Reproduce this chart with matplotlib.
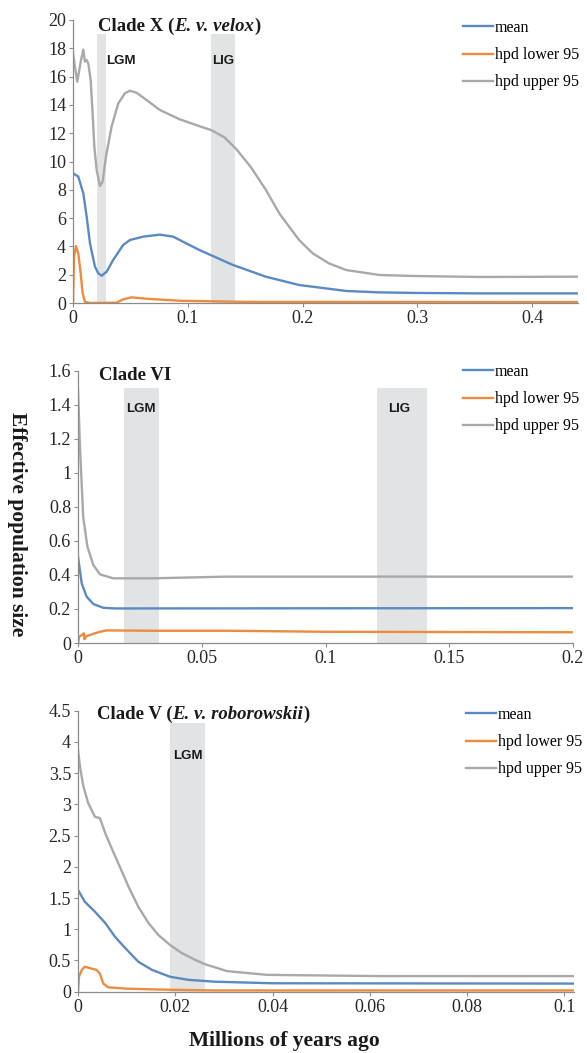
import numpy as np
import matplotlib
matplotlib.use("Agg")
import matplotlib.pyplot as plt
from matplotlib.text import Annotation
from matplotlib.ticker import FuncFormatter, MultipleLocator

plt.rcParams["font.family"] = ["Liberation Serif", "DejaVu Serif"]

# ---------- data ----------
series_labels = ["mean", "hpd lower 95", "hpd upper 95"]

# Clade X (E. v. velox)
x1_mean = [0, 0.0046, 0.009, 0.0119, 0.0148, 0.0191, 0.022, 0.025, 0.0293, 0.035, 0.0437,
           0.0496, 0.0611, 0.0757, 0.0872, 0.093, 0.110, 0.139, 0.168, 0.197, 0.209, 0.238,
           0.267, 0.30, 0.354, 0.44]
y1_mean = [9.17, 8.93, 7.75, 6.1, 4.22, 2.57, 2.1, 1.93, 2.21, 3.04, 4.1,
           4.45, 4.69, 4.83, 4.69, 4.45, 3.75, 2.7, 1.86, 1.27, 1.15, 0.85,
           0.75, 0.71, 0.68, 0.68]
x1_lower = [0, 0.0009, 0.0026, 0.0046, 0.0067, 0.0084, 0.0104, 0.0148, 0.038, 0.0437,
            0.051, 0.064, 0.093, 0.15, 0.44]
y1_lower = [0.0, 3.27, 4.03, 3.51, 2.1, 0.69, 0.09, 0.0, 0.02, 0.26,
            0.4, 0.3, 0.16, 0.08, 0.07]
x1_upper = [0, 0.0017, 0.0037, 0.0055, 0.007, 0.009, 0.0104, 0.0119, 0.0133, 0.0154,
            0.0171, 0.0186, 0.0206, 0.0235, 0.0258, 0.0287, 0.0336, 0.0394, 0.0452,
            0.0496, 0.0554, 0.064, 0.0757, 0.093, 0.110, 0.121, 0.132, 0.142, 0.155,
            0.168, 0.18, 0.197, 0.209, 0.223, 0.238, 0.267, 0.296, 0.354, 0.40, 0.44]
y1_upper = [17.65, 16.7, 15.64, 16.47, 17.17, 17.9, 17.05, 17.17, 16.94, 15.76,
            13.4, 11.05, 9.4, 8.27, 8.57, 10.34, 12.46, 14.1, 14.82,
            15.0, 14.86, 14.35, 13.64, 12.98, 12.5, 12.2, 11.7, 10.9, 9.6,
            8.0, 6.3, 4.45, 3.5, 2.8, 2.33, 1.98, 1.91, 1.84, 1.85, 1.86]

# Clade VI
x2_mean = [0, 0.0015, 0.0035, 0.0062, 0.0102, 0.015, 0.2]
y2_mean = [0.507, 0.35, 0.272, 0.229, 0.207, 0.203, 0.205]
x2_lower = [0, 0.0005, 0.0021, 0.0024, 0.0026, 0.0034, 0.0062, 0.0089, 0.0116, 0.03,
            0.06, 0.1, 0.2]
y2_lower = [0.0, 0.037, 0.053, 0.057, 0.022, 0.04, 0.054, 0.066, 0.074, 0.072,
            0.072, 0.066, 0.063]
x2_upper = [0, 0.0008, 0.0021, 0.0038, 0.0062, 0.0089, 0.0143, 0.03, 0.06, 0.1, 0.15, 0.2]
y2_upper = [1.49, 1.15, 0.74, 0.566, 0.458, 0.403, 0.38, 0.38, 0.39, 0.39, 0.39, 0.39]

# Clade V (E. v. roborowskii)
x3_mean = [0, 0.0014, 0.0035, 0.0056, 0.0076, 0.0097, 0.0124, 0.0152, 0.0189, 0.0227,
           0.0282, 0.04, 0.102]
y3_mean = [1.63, 1.44, 1.28, 1.1, 0.88, 0.7, 0.48, 0.35, 0.24, 0.19,
           0.16, 0.135, 0.13]
x3_lower = [0, 0.0002, 0.0008, 0.0014, 0.0028, 0.0038, 0.0045, 0.0052, 0.0062, 0.0097,
            0.0165, 0.028, 0.102]
y3_lower = [0.0, 0.24, 0.35, 0.4, 0.37, 0.35, 0.29, 0.13, 0.07, 0.05,
            0.035, 0.02, 0.02]
x3_upper = [0, 0.0004, 0.0011, 0.0021, 0.0035, 0.0045, 0.0056, 0.0069, 0.0086, 0.0104,
            0.0124, 0.0145, 0.0165, 0.0189, 0.0213, 0.0241, 0.0261, 0.0282, 0.0306,
            0.0388, 0.05, 0.062, 0.102]
y3_upper = [3.87, 3.61, 3.29, 3.02, 2.8, 2.78, 2.54, 2.3, 2.0, 1.68,
            1.36, 1.1, 0.91, 0.75, 0.62, 0.51, 0.44, 0.39, 0.33,
            0.27, 0.26, 0.25, 0.25]

# climate periods (start, end, label)
bands1 = [(0.0205, 0.0285, "LGM"), (0.12, 0.141, "LIG")]
bands2 = [(0.0187, 0.0327, "LGM"), (0.1208, 0.1412, "LIG")]
bands3 = [(0.0189, 0.0261, "LGM")]

colors = ["#5B8AC3", "#ED8B3F", "#A9A9AB"]
band_color = "#E2E3E5"
axis_color = "#8C8C8C"
text_color = "#1a1a1a"


def style_axis(ax, xmax, xstep, ymax, ystep):
    for s in ["top", "right"]:
        ax.spines[s].set_visible(False)
    for s in ["left", "bottom"]:
        ax.spines[s].set_color(axis_color)
        ax.spines[s].set_linewidth(0.9)
    ax.set_xlim(0, xmax)
    ax.set_ylim(0, ymax)
    ax.xaxis.set_major_locator(MultipleLocator(xstep))
    ax.yaxis.set_major_locator(MultipleLocator(ystep))
    fmt = FuncFormatter(lambda v, p: f"{round(v, 6):g}")
    ax.xaxis.set_major_formatter(fmt)
    ax.yaxis.set_major_formatter(fmt)
    ax.tick_params(axis="both", direction="out", length=3, width=0.8,
                   color=axis_color, labelsize=13, labelcolor="#262626", pad=2)


def draw_title(x, y, parts):
    # parts: list of (text, style); each piece starts where the previous one ends
    last = None
    for s, style in parts:
        kw = dict(fontsize=13.5, fontweight="bold", fontstyle=style, color=text_color,
                  ha="left", va="bottom")
        if last is None:
            last = fig.text(x, y, s, **kw)
        else:
            last = fig.add_artist(Annotation(s, xy=(1, 0), xycoords=last, **kw))


def draw_panel(ax, xs, ys, bands, band_top, label_pos, title_parts, title_xy, leg_anchor):
    for x0, x1, lab in bands:
        ax.axvspan(x0, x1, ymin=0, ymax=band_top / ax.get_ylim()[1],
                   color=band_color, lw=0, zorder=0)
    lines = []
    for x, y, c in zip(xs, ys, colors):
        (ln,) = ax.plot(x, y, color=c, lw=1.7, zorder=2)
        lines.append(ln)
    for (x0, x1, lab), lp in zip(bands, label_pos):
        ax.text(lp[0], lp[1], lab, family=["Liberation Sans", "DejaVu Sans"],
                fontweight="bold", fontsize=9.5, color=text_color,
                ha="center", va="center", zorder=3)
    draw_title(title_xy[0], title_xy[1], title_parts)
    fig.legend(lines, series_labels, loc="upper left", bbox_to_anchor=leg_anchor,
               bbox_transform=fig.transFigure, frameon=False, fontsize=11.5,
               handlelength=1.85, handletextpad=0.15, labelspacing=0.7,
               borderpad=0, borderaxespad=0)


W, H = 587, 1053
fig = plt.figure(figsize=(W / 100, H / 100), dpi=100)


def axes_px(left, right, top, bottom):
    return fig.add_axes([left / W, 1 - bottom / H, (right - left) / W, (bottom - top) / H])


ax1 = axes_px(73, 578, 20, 303)
style_axis(ax1, 0.44, 0.1, 20, 2)
draw_panel(ax1, [x1_mean, x1_lower, x1_upper], [y1_mean, y1_lower, y1_upper],
           bands1, 19.0, [(0.042, 17.1), (0.1305, 17.1)],
           [("Clade X (", "normal"), ("E. v. velox", "italic"), (")", "normal")],
           (98 / W, 1 - 35 / H), (463 / W, 1 - 20 / H))

ax2 = axes_px(78, 573, 370.7, 643)
style_axis(ax2, 0.2, 0.05, 1.6, 0.2)
draw_panel(ax2, [x2_mean, x2_lower, x2_upper], [y2_mean, y2_lower, y2_upper],
           bands2, 1.5, [(0.0254, 1.375), (0.1297, 1.375)],
           [("Clade VI", "normal")], (99 / W, 1 - 384 / H), (463 / W, 1 - 364 / H))

ax3 = axes_px(78, 574, 710.7, 991.7)
style_axis(ax3, 0.102, 0.02, 4.5, 0.5)
draw_panel(ax3, [x3_mean, x3_lower, x3_upper], [y3_mean, y3_lower, y3_upper],
           bands3, 4.3, [(0.0226, 3.77)],
           [("Clade V (", "normal"), ("E. v. roborowskii", "italic"), (")", "normal")],
           (97 / W, 1 - 723 / H), (466 / W, 1 - 707 / H))

fig.text(17 / W, 1 - 524 / H, "Effective population size", rotation=-90,
         fontsize=15.5, fontweight="bold", ha="center", va="center", color=text_color)
fig.text(284 / W, 1 - 1041 / H, "Millions of years ago", fontsize=15.5,
         fontweight="bold", ha="center", va="center", color=text_color)

fig.savefig("out.png", dpi=100)
